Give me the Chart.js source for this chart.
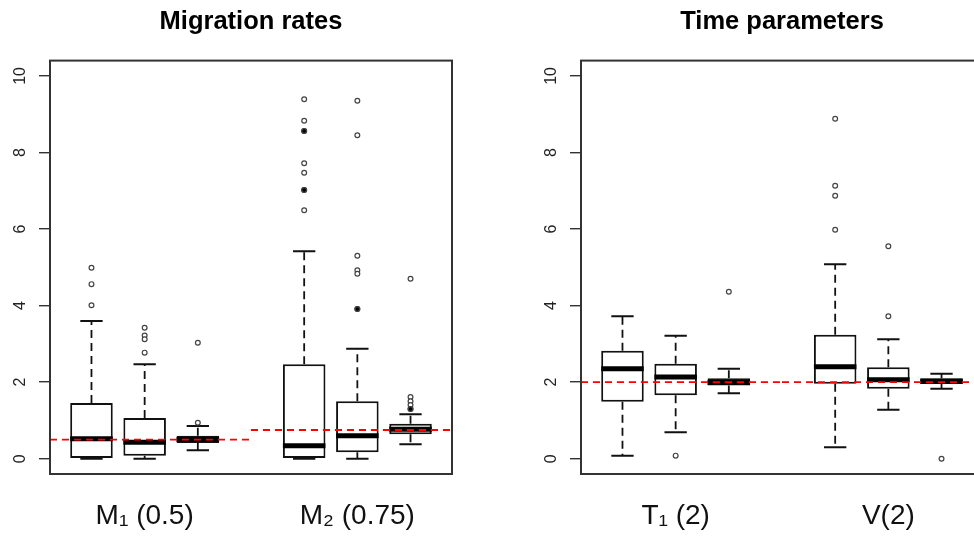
<!DOCTYPE html>
<html>
<head>
<meta charset="utf-8">
<script src="https://cdn.jsdelivr.net/npm/chart.js@4"></script>
<style>
    html, body { margin: 0; padding: 0; background: #fff; overflow: hidden; }
    #wrap { position: relative; width: 974px; height: 538px; overflow: hidden; }
    #left { position: absolute; left: 0; top: 0; }
    #right { position: absolute; left: 487px; top: 0; }
</style>
</head>
<body>
<div id="wrap">
    <canvas id="left" width="496" height="538"></canvas>
    <canvas id="right" width="520" height="538"></canvas>
</div>
<script>
const FONT = "'Liberation Sans', Arial, sans-serif";

// shared layout of the boxes (x positions in plot units)
const boxPos = [1, 2, 3, 5, 6, 7];
const groupPos = [2, 6];
const groupEdges = [0.22, 4, 7.78];
const yTicks = [0, 2, 4, 6, 8, 10];

// Migration rates
const migLabels = ['M\u2081 (0.5)', 'M\u2082 (0.75)'];
const migTruth = [0.5, 0.75];
const migLow  = [0,    0,    0.22, 0,    0,    0.375];
const migQ1   = [0,    0.08, 0.41, 0,    0.17, 0.64];
const migMed  = [0.52, 0.43, 0.50, 0.34, 0.60, 0.77];
const migQ3   = [1.455, 1.06, 0.60, 2.47, 1.50, 0.91];
const migHigh = [3.60, 2.47, 0.855, 5.42, 2.87, 1.16];
const migOut = [
    [4.99, 4.56, 4.01],
    [3.42, 3.22, 3.12, 2.77],
    [0.94, 3.03],
    [9.39, 8.83, 8.56, 8.56, 7.72, 7.47, 7.02, 7.02, 6.49],
    [9.35, 8.45, 5.30, 4.92, 4.83, 3.91, 3.91],
    [1.61, 1.50, 1.40, 1.30, 1.30, 4.70]
];

// Time parameters
const timeLabels = ['T\u2081 (2)', 'V(2)'];
const timeTruth = [2, 2];
const timeLow  = [0.08, 0.69, 1.71, 0.30, 1.28, 1.83];
const timeQ1   = [1.49, 1.66, 1.91, 1.96, 1.83, 1.95];
const timeMed  = [2.35, 2.135, 1.99, 2.40, 2.06, 2.02];
const timeQ3   = [2.82, 2.48, 2.10, 3.24, 2.39, 2.10];
const timeHigh = [3.72, 3.21, 2.35, 5.08, 3.12, 2.22];
const timeOut = [
    [],
    [0.08],
    [4.36],
    [8.88, 7.13, 6.87, 5.98],
    [3.72, 5.55],
    [0.0]
];

const frame = {
    id: 'frame',
    afterDatasetsDraw(chart) {
        const a = chart.chartArea;
        const c = chart.ctx;
        c.save();
        c.strokeStyle = '#333';
        c.lineWidth = 2;
        c.strokeRect(a.left, a.top, a.right - a.left, a.bottom - a.top);
        c.restore();
    }
};

function unitPx(ctx) {
    const s = ctx.chart.scales.x;
    return s.getPixelForValue(1) - s.getPixelForValue(0);
}

function boxChart(id, title, labels, truth, low, q1, med, q3, high, out, padLeft, padRight) {
    let whiskers = [];
    let caps = [];
    let points = [];
    let ref = [];
    boxPos.forEach((x, i) => {
        whiskers.push({x: x, y: q3[i]}, {x: x, y: high[i]}, {x: x, y: null});
        whiskers.push({x: x, y: q1[i]}, {x: x, y: low[i]}, {x: x, y: null});
        caps.push({x: x, y: low[i]}, {x: x, y: high[i]});
        out[i].forEach(v => {
            let n = out[i].filter(w => w === v).length;
            points.push({x: x, y: v, dup: n > 1});
        });
    });
    truth.forEach((t, g) => {
        ref.push({x: groupEdges[g], y: t}, {x: groupEdges[g + 1], y: t}, {x: groupEdges[g + 1], y: null});
    });

    return new Chart(document.getElementById(id), {
        type: 'bar',
        data: {
            datasets: [
                {
                    type: 'line', data: ref, borderColor: '#ff0000', borderWidth: 1.8,
                    borderDash: [7, 5], pointRadius: 0, spanGaps: false, order: 0
                },
                {
                    type: 'scatter', data: points, pointStyle: 'circle', pointRadius: 2.4,
                    pointBorderWidth: 1.2, pointBorderColor: '#444',
                    pointBackgroundColor: c => (c.raw && c.raw.dup) ? '#000' : '#fff', order: 1
                },
                {
                    type: 'scatter', data: boxPos.map((x, i) => ({x: x, y: med[i]})),
                    pointStyle: 'line', pointRadius: c => 0.4 * unitPx(c),
                    pointBorderWidth: 5, pointBorderColor: '#000', order: 2
                },
                {
                    type: 'scatter', data: caps, pointStyle: 'line', pointRadius: c => 0.21 * unitPx(c),
                    pointBorderWidth: 2, pointBorderColor: '#111', order: 3
                },
                {
                    type: 'line', data: whiskers, borderColor: '#111', borderWidth: 1.8,
                    borderDash: [8, 5], pointRadius: 0, spanGaps: false, order: 4
                },
                {
                    type: 'bar', data: boxPos.map((x, i) => ({x: x, y: [q1[i], q3[i]]})),
                    backgroundColor: '#fff', borderColor: '#111', borderWidth: 2,
                    borderSkipped: false, barPercentage: 0.8, categoryPercentage: 1, order: 5
                }
            ]
        },
        options: {
            responsive: false,
            animation: false,
            devicePixelRatio: 1,
            events: [],
            layout: { padding: { left: padLeft, right: padRight, top: 0, bottom: 2 } },
            plugins: {
                legend: { display: false },
                tooltip: { enabled: false },
                title: {
                    display: true, text: title, fullSize: false, color: '#000',
                    font: { family: FONT, size: 25.5, weight: 'bold' },
                    padding: { top: 7, bottom: 23 }
                }
            },
            scales: {
                x: {
                    type: 'linear', min: 0.22, max: 7.78, offset: false,
                    grid: { display: false, drawTicks: false }, border: { display: false },
                    afterBuildTicks: s => { s.ticks = groupPos.map(v => ({value: v})); },
                    afterFit: s => { s.height = 62; },
                    ticks: {
                        callback: (v, i) => labels[i], autoSkip: false, maxRotation: 0,
                        font: { family: FONT, size: 28 }, color: '#111', padding: 25
                    }
                },
                y: {
                    type: 'linear', min: -0.4, max: 10.4,
                    afterBuildTicks: s => { s.ticks = yTicks.map(v => ({value: v})); },
                    afterFit: s => { s.width = 50; },
                    grid: { drawOnChartArea: false, tickLength: 11, color: '#333', lineWidth: 1.4 },
                    border: { display: false },
                    ticks: {
                        minRotation: 90, maxRotation: 90, crossAlign: 'center', padding: 10,
                        font: { family: FONT, size: 16 }, color: '#222'
                    }
                }
            }
        },
        plugins: [frame]
    });
}

boxChart('left', 'Migration rates', migLabels, migTruth,
    migLow, migQ1, migMed, migQ3, migHigh, migOut, 0, 44);
boxChart('right', 'Time parameters', timeLabels, timeTruth,
    timeLow, timeQ1, timeMed, timeQ3, timeHigh, timeOut, 44, 24);
</script>
</body>
</html>
